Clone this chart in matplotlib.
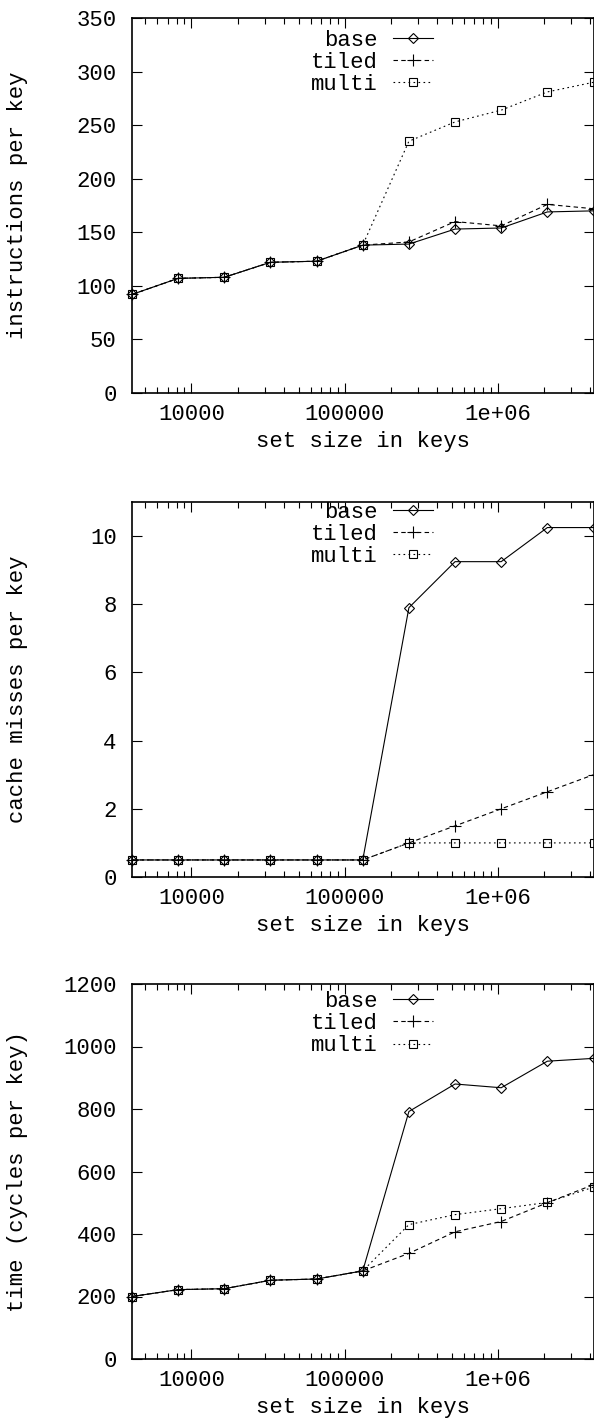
import matplotlib
matplotlib.use('Agg')
import matplotlib.pyplot as plt
from matplotlib.ticker import FixedLocator, LogLocator, NullFormatter, FuncFormatter

plt.rcParams['font.family'] = ['Liberation Mono', 'DejaVu Sans Mono']
plt.rcParams['font.size'] = 16

set_sizes = [4096, 8192, 16384, 32768, 65536, 131072, 262144,
             524288, 1048576, 2097152, 4194304]

# instructions per key
instr_base = [92, 107, 108, 122, 123, 138, 139, 153, 154, 169, 170]
instr_tiled = [92, 107, 108, 122, 123, 138, 141, 160, 156, 176, 172]
instr_multi = [92, 107, 108, 122, 123, 138, 235, 253, 264, 281, 290]

# cache misses per key
miss_base = [0.5, 0.5, 0.5, 0.5, 0.5, 0.5, 7.9, 9.25, 9.25, 10.25, 10.25]
miss_tiled = [0.5, 0.5, 0.5, 0.5, 0.5, 0.5, 1.0, 1.5, 2.0, 2.5, 3.0]
miss_multi = [0.5, 0.5, 0.5, 0.5, 0.5, 0.5, 1.0, 1.0, 1.0, 1.0, 1.0]

# cycles per key
time_base = [200, 222, 225, 252, 256, 282, 792, 880, 868, 953, 962]
time_tiled = [200, 222, 225, 252, 256, 282, 338, 407, 440, 500, 558]
time_multi = [200, 222, 225, 252, 256, 282, 430, 462, 481, 501, 550]

panels = [
    ('instructions per key', instr_base, instr_tiled, instr_multi,
     (0, 350), [0, 50, 100, 150, 200, 250, 300, 350], 18, 393, 0.968),
    ('cache misses per key', miss_base, miss_tiled, miss_multi,
     (0, 11), [0, 2, 4, 6, 8, 10], 502, 877, 1.0),
    ('time (cycles per key)', time_base, time_tiled, time_multi,
     (0, 1200), [0, 200, 400, 600, 800, 1000, 1200], 984, 1359, 0.981),
]

W, H = 594, 1418
fig = plt.figure(figsize=(W / 100, H / 100), dpi=100)

left, right = 132, 593.5


def xfmt(v, pos):
    return {1e4: '10000', 1e5: '100000', 1e6: '1e+06'}.get(v, '')


for ylabel, base, tiled, multi, ylim, yticks, top, bottom, legy in panels:
    ax = fig.add_axes([left / W, 1 - bottom / H, (right - left) / W, (bottom - top) / H])
    kw = dict(color='black', lw=0.8, mew=0.8, mfc='none', clip_on=False)
    ax.plot(set_sizes, base, '-', marker='D', ms=5, label='base', **kw)
    ax.plot(set_sizes, tiled, marker='+', ms=8, ls=(0, (4, 3)), label='tiled', **kw)
    ax.plot(set_sizes, multi, marker='s', ms=6, ls=(0, (1.5, 3)), label='multi', **kw)

    ax.set_xscale('log')
    ax.set_xlim(4096, 4194304)
    ax.set_ylim(*ylim)
    ax.xaxis.set_major_locator(FixedLocator([1e4, 1e5, 1e6]))
    ax.xaxis.set_major_formatter(FuncFormatter(xfmt))
    ax.xaxis.set_minor_locator(LogLocator(base=10, subs=range(2, 10)))
    ax.xaxis.set_minor_formatter(NullFormatter())
    ax.set_yticks(yticks)

    ax.tick_params(which='both', direction='in', top=True, right=True, width=0.8)
    ax.tick_params(which='major', length=7)
    ax.tick_params(which='minor', length=4)
    ax.tick_params(axis='x', pad=8)
    ax.tick_params(axis='y', pad=11)
    for s in ax.spines.values():
        s.set_linewidth(1.2)

    ax.set_xlabel('set size in keys', labelpad=4)
    ax.set_ylabel(ylabel)
    ax.yaxis.set_label_coords(-0.225, 0.5)

    ax.legend(loc='upper right', bbox_to_anchor=(0.652, legy), frameon=False,
              markerfirst=False, handlelength=1.8, handletextpad=0.7,
              labelspacing=0.05, borderpad=0, borderaxespad=0, numpoints=1)

fig.savefig('out.png', dpi=100)
